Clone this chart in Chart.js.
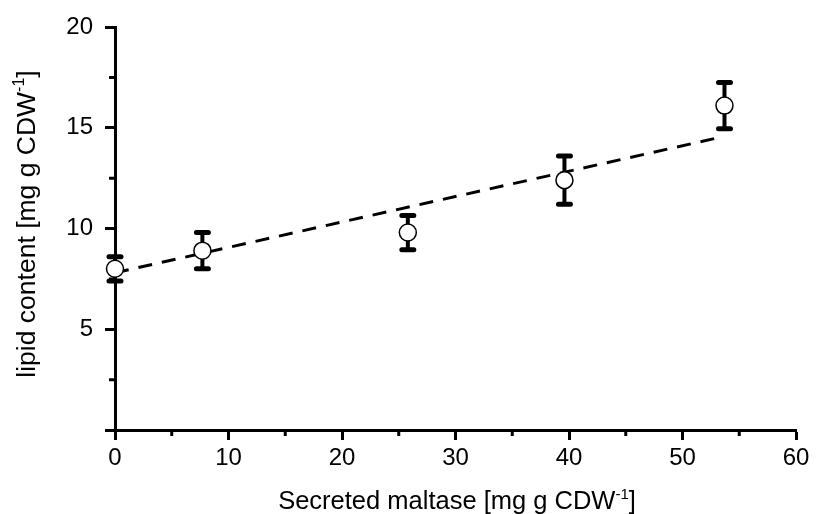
<!DOCTYPE html>
<html>
<head>
<meta charset="utf-8">
<script src="https://cdn.jsdelivr.net/npm/chart.js@4/dist/chart.umd.min.js"></script>
<style>
  html, body { margin: 0; padding: 0; background: #fff; }
  #wrap { width: 817px; height: 514px; }
</style>
</head>
<body>
<div id="wrap"><canvas id="c" width="817" height="514"></canvas></div>
<script>
// Secreted maltase vs. lipid content, mean ± SD
const maltase = [0, 7.7, 25.8, 39.6, 53.7];
const lipid = [8.0, 8.9, 9.8, 12.4, 16.1];
const lipidSD = [0.6, 0.9, 0.85, 1.2, 1.15];

// Linear trend line end points
const fitX = [0, 53.5];
const fitY = [7.8, 14.55];

// Tick positions
const xMajorTicks = [0, 10, 20, 30, 40, 50, 60];
const xMinorTicks = [5, 15, 25, 35, 45, 55];
const yMajorTicks = [0, 5, 10, 15, 20];
const yMinorTicks = [2.5, 7.5, 12.5, 17.5];

const FONT = 'Liberation Sans, Arial, sans-serif';

const points = maltase.map((x, i) => ({ x, y: lipid[i] }));
const fitLine = fitX.map((x, i) => ({ x, y: fitY[i] }));

// Vertical error bars with flat caps
const errorBars = {
  id: 'errorBars',
  beforeDatasetsDraw(chart) {
    const { ctx, scales: { x, y } } = chart;
    ctx.save();
    ctx.strokeStyle = '#000';
    ctx.lineCap = 'round';
    maltase.forEach((mx, i) => {
      const px = x.getPixelForValue(mx);
      const top = y.getPixelForValue(lipid[i] + lipidSD[i]);
      const bot = y.getPixelForValue(lipid[i] - lipidSD[i]);
      ctx.lineWidth = 4;
      ctx.beginPath();
      ctx.moveTo(px, top);
      ctx.lineTo(px, bot);
      ctx.stroke();
      ctx.lineWidth = 5;
      ctx.beginPath();
      ctx.moveTo(px - 6, top); ctx.lineTo(px + 6, top);
      ctx.moveTo(px - 6, bot); ctx.lineTo(px + 6, bot);
      ctx.stroke();
    });
    ctx.restore();
  }
};

// Short minor tick marks and axis titles with superscripts
const axisExtras = {
  id: 'axisExtras',
  afterDraw(chart) {
    const { ctx, scales: { x, y }, chartArea } = chart;
    ctx.save();
    ctx.strokeStyle = '#000';
    ctx.lineWidth = 3;
    ctx.beginPath();
    xMinorTicks.forEach(v => {
      const px = x.getPixelForValue(v);
      ctx.moveTo(px, chartArea.bottom);
      ctx.lineTo(px, chartArea.bottom + 6);
    });
    yMinorTicks.forEach(v => {
      const py = y.getPixelForValue(v);
      ctx.moveTo(chartArea.left, py);
      ctx.lineTo(chartArea.left - 6, py);
    });
    ctx.stroke();

    const drawTitle = (main, sup, tail, size) => {
      const mainFont = size + 'px ' + FONT;
      const supFont = Math.round(size * 0.6) + 'px ' + FONT;
      ctx.font = mainFont;
      const w1 = ctx.measureText(main).width;
      const w3 = ctx.measureText(tail).width;
      ctx.font = supFont;
      const w2 = ctx.measureText(sup).width;
      const total = w1 + w2 + w3;
      let cx = -total / 2;
      ctx.fillStyle = '#000';
      ctx.textBaseline = 'alphabetic';
      ctx.textAlign = 'left';
      ctx.font = mainFont;
      ctx.fillText(main, cx, 0);
      cx += w1;
      ctx.font = supFont;
      ctx.fillText(sup, cx, -size * 0.4);
      cx += w2;
      ctx.font = mainFont;
      ctx.fillText(tail, cx, 0);
    };

    // x title
    ctx.save();
    ctx.translate(457, 509);
    drawTitle('Secreted maltase [mg g CDW', '-1', ']', 25.5);
    ctx.restore();

    // y title
    ctx.save();
    ctx.translate(35, 224);
    ctx.rotate(-Math.PI / 2);
    drawTitle('lipid content [mg g CDW', '-1', ']', 26.5);
    ctx.restore();

    ctx.restore();
  }
};

new Chart(document.getElementById('c'), {
  type: 'scatter',
  data: {
    datasets: [
      {
        type: 'scatter',
        data: points,
        pointStyle: 'circle',
        pointRadius: 8.5,
        pointHoverRadius: 8.5,
        pointBackgroundColor: '#fff',
        pointBorderColor: '#000',
        pointBorderWidth: 1.5,
        showLine: false,
        clip: false,
        order: 0
      },
      {
        type: 'line',
        data: fitLine,
        borderColor: '#000',
        borderWidth: 3,
        borderDash: [14, 10],
        pointRadius: 0,
        fill: false,
        clip: false,
        order: 1
      }
    ]
  },
  options: {
    responsive: false,
    animation: false,
    events: [],
    layout: { padding: { left: 0, right: 21, top: 27, bottom: 0 } },
    plugins: { legend: { display: false }, tooltip: { enabled: false } },
    scales: {
      x: {
        type: 'linear',
        min: 0, max: 60,
        afterFit(s) { s.height = 84; },
        afterBuildTicks(s) { s.ticks = xMajorTicks.map(v => ({ value: v })); },
        border: { display: true, color: '#000', width: 3 },
        grid: { drawOnChartArea: false, drawTicks: true, tickLength: 10, tickWidth: 3, tickColor: '#000' },
        ticks: { color: '#000', font: { family: FONT, size: 24 }, padding: 4, maxRotation: 0 }
      },
      y: {
        type: 'linear',
        min: 0, max: 20,
        afterFit(s) { s.width = 115; },
        afterBuildTicks(s) { s.ticks = yMajorTicks.map(v => ({ value: v })); },
        border: { display: true, color: '#000', width: 3 },
        grid: { drawOnChartArea: false, drawTicks: true, tickLength: 10, tickWidth: 3, tickColor: '#000' },
        ticks: {
          color: '#000', font: { family: FONT, size: 24 }, padding: 12,
          callback: v => (v === 0 ? '' : String(v))
        }
      }
    }
  },
  plugins: [errorBars, axisExtras]
});
</script>
</body>
</html>
